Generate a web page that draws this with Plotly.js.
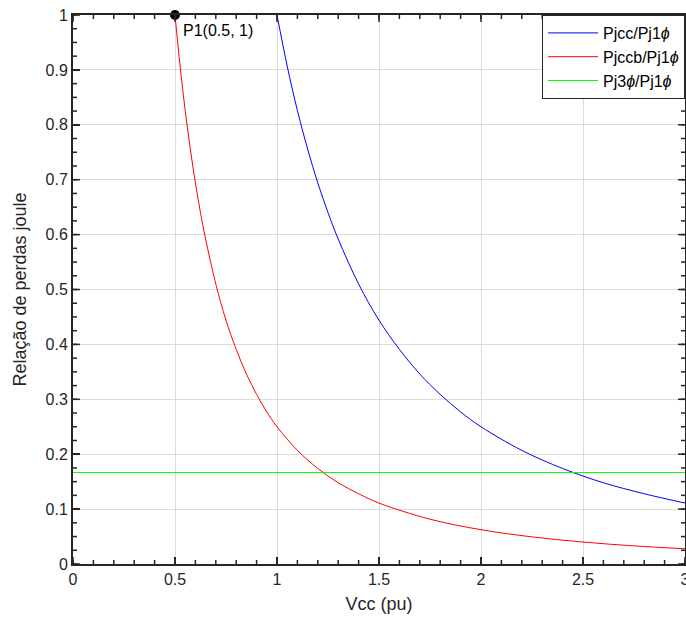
<!DOCTYPE html>
<html><head><meta charset="utf-8">
<script src="https://cdn.plot.ly/plotly-3.0.1.min.js"></script>
<style>html,body{margin:0;padding:0;background:#fff}#chart{width:686px;height:625px}</style>
</head><body><div id="chart"></div>
<script>
// Pjcc/Pj1φ (blue)
const vccBlue = [1.0, 1.05, 1.1, 1.15, 1.2, 1.25, 1.3, 1.4, 1.5, 1.6, 1.7, 1.8, 1.9, 2.0, 2.2, 2.4, 2.6, 2.8, 3.0];
const pjccBlue = [1.0, 0.907, 0.826, 0.756, 0.694, 0.640, 0.592, 0.510, 0.444, 0.391, 0.346, 0.309, 0.277, 0.250, 0.207, 0.174, 0.148, 0.128, 0.111];
// Pjccb/Pj1φ (red)
const vccRed = [0.5, 0.525, 0.55, 0.575, 0.6, 0.625, 0.65, 0.7, 0.75, 0.8, 0.85, 0.9, 0.95, 1.0, 1.1, 1.2, 1.3, 1.4, 1.5, 1.75, 2.0, 2.25, 2.5, 2.75, 3.0];
const pjccbRed = [1.0, 0.907, 0.826, 0.756, 0.694, 0.640, 0.592, 0.510, 0.444, 0.391, 0.346, 0.309, 0.277, 0.250, 0.207, 0.174, 0.148, 0.128, 0.111, 0.0816, 0.0625, 0.0494, 0.040, 0.033, 0.0278];
// Pj3φ/Pj1φ (green, constant)
const vccGreen = [0, 3];
const pj3Green = [0.1667, 0.1667];
// marked point
const pointX = [0.5];
const pointY = [1];
const pointLabel = "P1(0.5, 1)";
const seriesNames = ["Pjcc/Pj1<i>ϕ</i>", "Pjccb/Pj1<i>ϕ</i>", "Pj3<i>ϕ</i>/Pj1<i>ϕ</i>"];
// axis ticks
const xMajorTicks = [0, 0.5, 1, 1.5, 2, 2.5, 3];
const yMajorTicks = [0, 0.1, 0.2, 0.3, 0.4, 0.5, 0.6, 0.7, 0.8, 0.9, 1];
const xMinorStep = 0.1;
const yMinorStep = 0.025;
const xRange = [0, 3];
const yRange = [0, 1];

const font = "Liberation Sans, Arial, sans-serif";
const ink = '#262626';
const data = [
  {x: vccBlue, y: pjccBlue, name: seriesNames[0], mode: 'lines', line: {color: '#0000ff', width: 1, shape: 'spline'}},
  {x: vccRed, y: pjccbRed, name: seriesNames[1], mode: 'lines', line: {color: '#ff0000', width: 1, shape: 'spline'}},
  {x: vccGreen, y: pj3Green, name: seriesNames[2], mode: 'lines', line: {color: '#00ff00', width: 1}},
  {x: pointX, y: pointY, mode: 'markers', showlegend: false, cliponaxis: false,
   marker: {color: '#000', size: 10}}
];

// inward tick marks on all four sides, placed through the axes (pixel-length shapes)
const shapes = [];
function xTick(v, len) {
  const ln = {color: ink, width: 1.5};
  shapes.push({type: 'line', xref: 'x', yref: 'paper', ysizemode: 'pixel', yanchor: 0, x0: v, x1: v, y0: 0, y1: len, line: ln, layer: 'above'});
  shapes.push({type: 'line', xref: 'x', yref: 'paper', ysizemode: 'pixel', yanchor: 1, x0: v, x1: v, y0: 0, y1: -len, line: ln, layer: 'above'});
}
function yTick(v, len) {
  const ln = {color: ink, width: 1.5};
  shapes.push({type: 'line', yref: 'y', xref: 'paper', xsizemode: 'pixel', xanchor: 0, y0: v, y1: v, x0: 0, x1: len, line: ln, layer: 'above'});
  shapes.push({type: 'line', yref: 'y', xref: 'paper', xsizemode: 'pixel', xanchor: 1, y0: v, y1: v, x0: 0, x1: -len, line: ln, layer: 'above'});
}
const nx = Math.round((xRange[1] - xRange[0]) / xMinorStep);
for (let i = 0; i <= nx; i++) xTick(+(xRange[0] + i * xMinorStep).toFixed(4), 4);
const ny = Math.round((yRange[1] - yRange[0]) / yMinorStep);
for (let i = 0; i <= ny; i++) yTick(+(yRange[0] + i * yMinorStep).toFixed(4), 4);
xMajorTicks.forEach(v => xTick(v, 7));
yMajorTicks.forEach(v => yTick(v, 7));

const layout = {
  width: 686, height: 625,
  margin: {l: 73, r: 1, t: 15, b: 61},
  paper_bgcolor: '#fff', plot_bgcolor: '#fff',
  showlegend: true,
  font: {family: font, color: ink},
  xaxis: {
    range: xRange, tickmode: 'array', tickvals: xMajorTicks,
    showline: true, linecolor: ink, linewidth: 2, mirror: true,
    ticks: 'inside', ticklen: 7, tickwidth: 1.5, tickcolor: ink,
    showgrid: true, gridcolor: '#dcdcdc', gridwidth: 1, zeroline: false,
    ticklabeloverflow: 'allow',
    tickfont: {family: font, size: 16, color: ink},
    title: {text: 'Vcc (pu)', font: {family: font, size: 18, color: ink}, standoff: 10}
  },
  yaxis: {
    range: yRange, tickmode: 'array', tickvals: yMajorTicks,
    showline: true, linecolor: ink, linewidth: 2, mirror: true,
    ticks: 'inside', ticklen: 7, tickwidth: 1.5, tickcolor: ink,
    showgrid: true, gridcolor: '#dcdcdc', gridwidth: 1, zeroline: false,
    tickfont: {family: font, size: 16, color: ink},
    title: {text: 'Relação de perdas joule', font: {family: font, size: 18, color: ink}, standoff: 14}
  },
  shapes: shapes,
  legend: {x: 1, xanchor: 'right', y: 1, yanchor: 'top', bgcolor: '#fff',
    bordercolor: ink, borderwidth: 1, font: {family: font, size: 16, color: '#000'},
    tracegroupgap: 0, itemwidth: 50},
  annotations: [{x: pointX[0], y: pointY[0], xref: 'x', yref: 'y', text: pointLabel, showarrow: false,
    xanchor: 'left', yanchor: 'top', xshift: 6, yshift: -5,
    font: {family: font, size: 16, color: '#000'}}]
};
Plotly.newPlot('chart', data, layout, {displayModeBar: false, staticPlot: true});
</script></body></html>
